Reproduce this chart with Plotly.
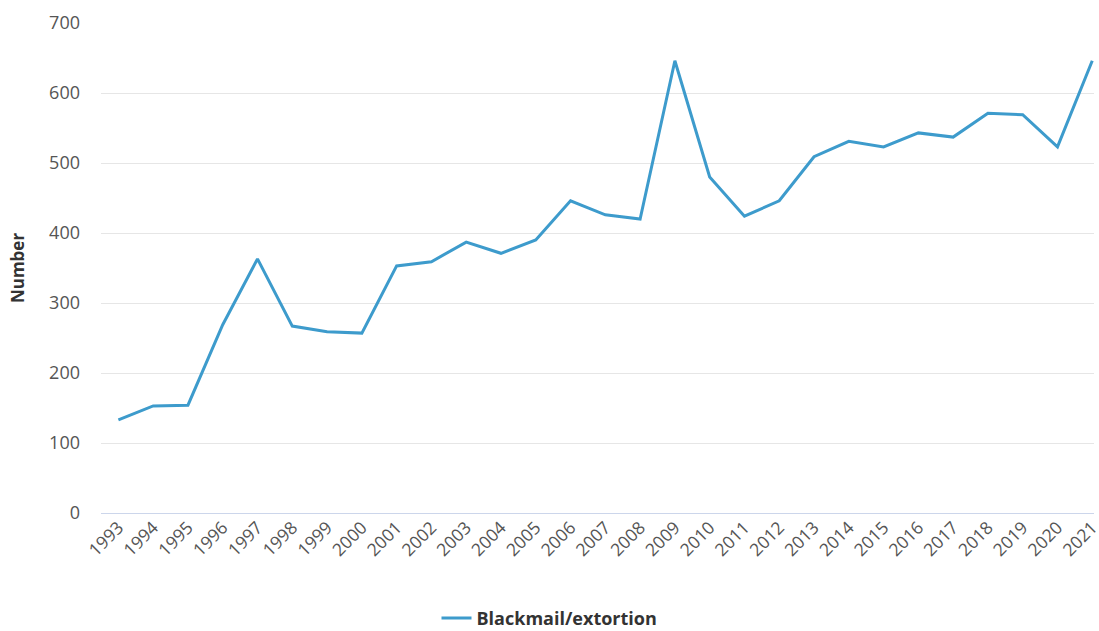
import plotly.graph_objects as go

years = list(range(1993, 2022))
values = [133, 153, 154, 269, 363, 267, 259, 257, 353, 359, 387, 371, 390, 446,
          426, 420, 646, 480, 424, 446, 509, 531, 523, 543, 537, 571, 569, 523, 646]
series_name = "Blackmail/extortion"
y_ticks = [0, 100, 200, 300, 400, 500, 600, 700]

fig = go.Figure()
fig.add_trace(go.Scatter(
    x=years, y=values, mode="lines", name=series_name,
    line=dict(color="#3d9bcc", width=3),
    showlegend=True,
))

fig.update_layout(
    width=1099, height=631,
    margin=dict(l=101, r=5, t=23, b=118),
    paper_bgcolor="white", plot_bgcolor="white",
    font=dict(family="Open Sans, sans-serif", color="#555555"),
    showlegend=True,
    legend=dict(orientation="h", xref="container", yref="container",
                x=0.5, xanchor="center", y=0.02, yanchor="middle",
                font=dict(size=18, color="#333333", family="Open Sans, sans-serif", weight="bold"),
                itemwidth=30),
    xaxis=dict(
        range=[1992.5, 2021.05],
        automargin=False,
        tickmode="array", tickvals=years, ticktext=[str(y) for y in years],
        tickangle=-45, tickfont=dict(size=17.5, color="#555555"),
        ticklabeloverflow="allow",
        showgrid=False, zeroline=False, showline=False, ticks="",
    ),
    yaxis=dict(
        range=[0, 700],
        automargin=False,
        tickmode="array", tickvals=y_ticks,
        tickfont=dict(size=18, color="#555555"),
        gridcolor="#e6e6e6", gridwidth=1,
        zeroline=True, zerolinecolor="#ccd6eb", zerolinewidth=1,
        ticklabelstandoff=20,
        title=dict(text="<b>Number</b>", font=dict(size=17, color="#333333"), standoff=20),
    ),
)

fig.write_html("out.html", config={"displayModeBar": False},
               post_script="document.body.style.margin='0';document.body.style.overflow='hidden';")
